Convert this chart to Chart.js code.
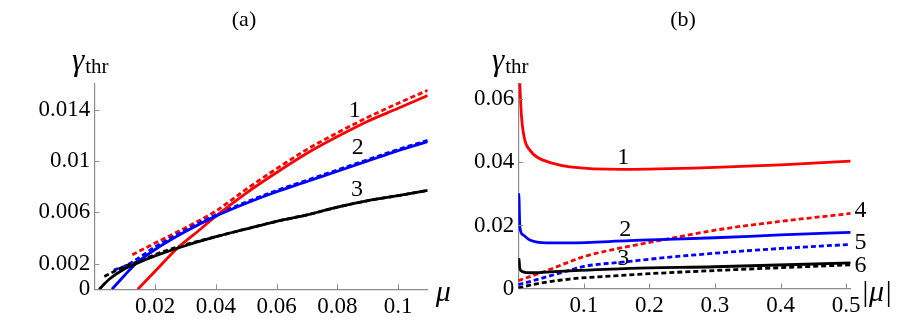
<!DOCTYPE html>
<html>
<head>
<meta charset="utf-8">
<script src="https://cdn.jsdelivr.net/npm/chart.js@4.4.1/dist/chart.umd.min.js"></script>
<style>
  body { margin: 0; background: #fff; }
  #wrap { position: relative; width: 913px; height: 335px; }
  canvas { position: absolute; top: 0; }
</style>
</head>
<body>
<div id="wrap">
  <canvas id="chartA" width="460" height="335" style="left:0"></canvas>
  <canvas id="chartB" width="453" height="335" style="left:460px"></canvas>
</div>
<script>
// ---- panel (a): gamma_thr vs mu ----
var muA1 = [0.0143, 0.02, 0.0273, 0.035, 0.04, 0.05, 0.06, 0.07, 0.08, 0.09, 0.1, 0.1097];
var gA1 = [0, 0.0014, 0.0032, 0.0047, 0.0057, 0.0075, 0.0091, 0.0106, 0.0119, 0.0131, 0.0141, 0.0151];
var muA1d = [0.0125, 0.02, 0.03, 0.04, 0.05, 0.06, 0.07, 0.08, 0.09, 0.1, 0.1097];
var gA1d = [0.0027, 0.0036, 0.0048, 0.0061, 0.0078, 0.0094, 0.0109, 0.0122, 0.0134, 0.0145, 0.0155];
var muA2 = [0.0058, 0.01, 0.0137, 0.02, 0.03, 0.04, 0.05, 0.06, 0.07, 0.08, 0.09, 0.1, 0.1097];
var gA2 = [0, 0.0011, 0.002, 0.0031, 0.0045, 0.0057, 0.0067, 0.0076, 0.0084, 0.0092, 0.01, 0.0108, 0.0115];
var muA2d = [0.0064, 0.01, 0.0137, 0.02, 0.03, 0.04, 0.05, 0.06, 0.07, 0.08, 0.09, 0.1, 0.1097];
var gA2d = [0.0015, 0.0018, 0.0023, 0.0033, 0.0046, 0.0058, 0.0068, 0.0077, 0.0085, 0.0093, 0.0101, 0.0109, 0.0116];
var muA3 = [0.0016, 0.005, 0.01, 0.0137, 0.02, 0.0273, 0.04, 0.05, 0.06, 0.07, 0.08, 0.09, 0.1, 0.1097];
var gA3 = [0, 0.0008, 0.0016, 0.002, 0.0026, 0.0032, 0.0041, 0.0047, 0.0053, 0.0058, 0.0064, 0.0069, 0.0073, 0.0077];
var muA3d = [0.0033, 0.005, 0.01, 0.0137, 0.02, 0.0273, 0.04, 0.05, 0.06, 0.07, 0.08, 0.09, 0.1, 0.1097];
var gA3d = [0.001, 0.0012, 0.0018, 0.0021, 0.0027, 0.0033, 0.0041, 0.0047, 0.0053, 0.0058, 0.0064, 0.0069, 0.0073, 0.0077];
var xTicksA = [0.02, 0.04, 0.06, 0.08, 0.1];
var yTicksA = [0, 0.002, 0.006, 0.01, 0.014];

// ---- panel (b): gamma_thr vs |mu| ----
var muB1 = [0.002, 0.0049, 0.0099, 0.0176, 0.0278, 0.053, 0.0786, 0.16, 0.3, 0.4, 0.507];
var gB1 = [0.066, 0.0545, 0.0471, 0.0439, 0.0418, 0.0397, 0.0386, 0.0378, 0.0384, 0.0392, 0.0404];
var muB2 = [0.0005, 0.0012, 0.0023, 0.0073, 0.0176, 0.043, 0.0786, 0.17, 0.2, 0.3, 0.4, 0.507];
var gB2 = [0.0302, 0.0281, 0.0196, 0.017, 0.0154, 0.0145, 0.0145, 0.0152, 0.0154, 0.0161, 0.017, 0.0178];
var muB3 = [0.0005, 0.0012, 0.0023, 0.0073, 0.0176, 0.043, 0.0786, 0.17, 0.3, 0.507];
var gB3 = [0.0096, 0.009, 0.0064, 0.0053, 0.005, 0.0052, 0.0056, 0.0064, 0.0069, 0.0081];
var muB4 = [0, 0.025, 0.05, 0.1, 0.15, 0.2, 0.3, 0.4, 0.507];
var gB4 = [0.0025, 0.0043, 0.0062, 0.0101, 0.0126, 0.0146, 0.0185, 0.0213, 0.0238];
var muB5 = [0, 0.028, 0.0786, 0.1, 0.17, 0.2, 0.3, 0.4, 0.507];
var gB5 = [0.0012, 0.0028, 0.0058, 0.007, 0.0086, 0.0093, 0.0112, 0.0127, 0.014];
var muB6 = [0, 0.028, 0.0786, 0.17, 0.2, 0.3, 0.4, 0.507];
var gB6 = [0.0002, 0.0015, 0.003, 0.0043, 0.0047, 0.0057, 0.0066, 0.0075];
var xTicksB = [0.1, 0.2, 0.3, 0.4, 0.5];
var yTicksB = [0, 0.02, 0.04, 0.06];

var RED = '#ff0000', BLUE = '#0000ff', BLACK = '#000000';
var SERIF = "'Liberation Serif', 'Times New Roman', serif";

Chart.defaults.font.family = SERIF;
Chart.defaults.color = '#000';

function pts(xs, ys) {
  return xs.map(function(x, i) { return { x: x, y: ys[i] }; });
}

function line(xs, ys, color, dashed) {
  return {
    data: pts(xs, ys),
    borderColor: color,
    borderWidth: 2.8,
    borderDash: dashed ? [5, 3] : [],
    pointRadius: 0,
    fill: false,
    cubicInterpolationMode: 'monotone'
  };
}

// inward tick marks, Mathematica style
var innerTicks = {
  id: 'innerTicks',
  afterDatasetsDraw: function(chart) {
    var ctx = chart.ctx, a = chart.chartArea;
    var xs = chart.scales.x, ys = chart.scales.y;
    ctx.save();
    ctx.strokeStyle = '#8c8c8c';
    ctx.lineWidth = 1;
    xs.ticks.forEach(function(t) {
      var p = Math.round(xs.getPixelForValue(t.value)) + 0.5;
      ctx.beginPath(); ctx.moveTo(p, a.bottom); ctx.lineTo(p, a.bottom - 5); ctx.stroke();
    });
    ys.ticks.forEach(function(t) {
      if (t.value === 0) return;
      var p = Math.round(ys.getPixelForValue(t.value)) + 0.5;
      ctx.beginPath(); ctx.moveTo(a.left, p); ctx.lineTo(a.left + 5, p); ctx.stroke();
    });
    ctx.restore();
  }
};

// curve numbers, axis names, panel title
var notes = {
  id: 'notes',
  afterDraw: function(chart, args, opts) {
    var ctx = chart.ctx, a = chart.chartArea;
    var xs = chart.scales.x, ys = chart.scales.y;
    ctx.save();
    ctx.fillStyle = '#000';
    ctx.textAlign = 'center';
    ctx.textBaseline = 'middle';
    ctx.font = '24px ' + SERIF;
    (opts.labels || []).forEach(function(l) {
      ctx.fillText(l[0], xs.getPixelForValue(l[1]), ys.getPixelForValue(l[2]));
    });
    // panel title
    ctx.font = '22px ' + SERIF;
    ctx.fillText(opts.title, opts.titleX, 20);
    // y axis name
    ctx.textAlign = 'left';
    ctx.textBaseline = 'alphabetic';
    ctx.font = 'italic 31px ' + SERIF;
    ctx.fillText('\u03b3', opts.yNameX, 70);
    var gw = ctx.measureText('\u03b3').width;
    ctx.font = '21px ' + SERIF;
    ctx.fillText('thr', opts.yNameX + gw + 1, 73);
    // x axis name
    ctx.font = 'italic 30px ' + SERIF;
    ctx.fillText(opts.xName, a.right + opts.xNameDx, 301);
    ctx.restore();
  }
};

function makeChart(id, datasets, xMax, yMax, xTicks, yTicks, box, noteOpts) {
  return new Chart(document.getElementById(id), {
    type: 'scatter',
    data: { datasets: datasets },
    options: {
      responsive: false,
      animation: false,
      devicePixelRatio: 1,
      showLine: true,
      layout: { padding: { left: 0, right: box.right, top: box.top, bottom: 0 } },
      plugins: { legend: { display: false }, tooltip: { enabled: false }, notes: noteOpts },
      scales: {
        x: {
          type: 'linear', min: 0, max: xMax,
          grid: { display: false, drawTicks: false },
          border: { display: true, color: '#8c8c8c', width: 1.2 },
          ticks: { autoSkip: false, padding: 4, font: { size: 23 }, callback: function(v) { return String(v); } },
          afterBuildTicks: function(s) { s.ticks = xTicks.map(function(v) { return { value: v }; }); },
          afterFit: function(s) { s.height = box.xh; }
        },
        y: {
          type: 'linear', min: 0, max: yMax,
          grid: { display: false, drawTicks: false },
          border: { display: true, color: '#8c8c8c', width: 1.2 },
          ticks: { autoSkip: false, padding: 4, font: { size: 23 }, callback: function(v) { return String(v); } },
          afterBuildTicks: function(s) { s.ticks = yTicks.map(function(v) { return { value: v }; }); },
          afterFit: function(s) { s.width = box.yw; }
        }
      }
    },
    plugins: [innerTicks, notes]
  });
}

makeChart('chartA', [
  line(muA3, gA3, BLACK, false),
  line(muA2, gA2, BLUE, false),
  line(muA1, gA1, RED, false),
  line(muA3d, gA3d, BLACK, true),
  line(muA2d, gA2d, BLUE, true),
  line(muA1d, gA1d, RED, true)
], 0.1097, 0.01605, xTicksA, yTicksA,
  { right: 32.3, top: 83.3, xh: 45.7, yw: 94.3 },
  { title: '(a)', titleX: 244, yNameX: 72, xName: '\u03bc', xNameDx: 8,
    labels: [['1', 0.0857, 0.0139], ['2', 0.0867, 0.011], ['3', 0.0864, 0.00774]] });

makeChart('chartB', [
  line(muB3, gB3, BLACK, false),
  line(muB2, gB2, BLUE, false),
  line(muB1, gB1, RED, false),
  line(muB6, gB6, BLACK, true),
  line(muB5, gB5, BLUE, true),
  line(muB4, gB4, RED, true)
], 0.507, 0.0651, xTicksB, yTicksB,
  { right: 62.3, top: 83.3, xh: 46.5, yw: 58.3 },
  { title: '(b)', titleX: 223, yNameX: 32, xName: '|\u03bc|', xNameDx: 10,
    labels: [['1', 0.16, 0.0416], ['2', 0.163, 0.0185], ['3', 0.16, 0.0093],
             ['4', 0.522, 0.0246], ['5', 0.522, 0.0146], ['6', 0.522, 0.0071]] });
</script>
</body>
</html>
